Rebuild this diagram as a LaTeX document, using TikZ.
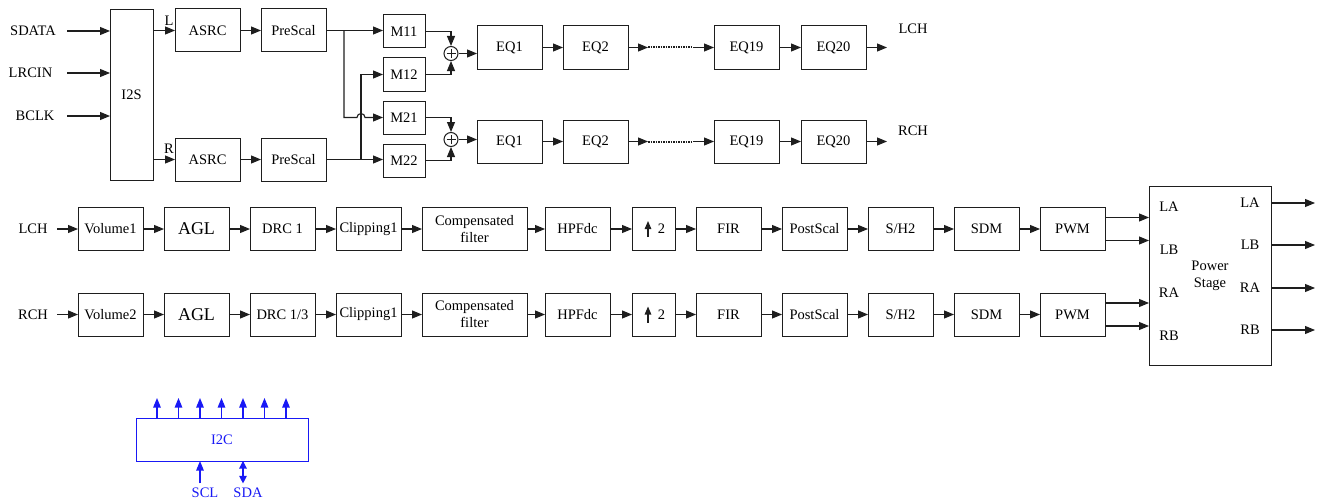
\documentclass[tikz,border=0pt]{standalone}
\usepackage{fontspec}
\setmainfont{Liberation Serif}
\usetikzlibrary{arrows.meta,positioning,calc}
\definecolor{linegray}{RGB}{30,30,30}
\definecolor{i2cblue}{RGB}{25,25,245}
\tikzset{
  blk/.style={rectangle, draw=linegray, line width=1pt, outer sep=0pt,
    minimum width=65pt, minimum height=43pt, inner sep=0pt, align=center,
    font=\fontsize{14.5}{17}\selectfont},
  mblk/.style={blk, minimum width=42pt, minimum height=33pt},
  sum/.style={circle, draw=linegray, line width=1pt, minimum size=14pt, inner sep=0pt,
    path picture={\draw[line width=0.9pt]
      ([xshift=-4.5pt]path picture bounding box.center) -- ([xshift=4.5pt]path picture bounding box.center)
      ([yshift=-4.5pt]path picture bounding box.center) -- ([yshift=4.5pt]path picture bounding box.center);}},
  sig/.style={inner sep=1pt, font=\fontsize{14.5}{17}\selectfont},
  arr/.style={-{Triangle[length=10pt,width=8pt]}, line width=1.1pt, color=linegray},
  smallarr/.style={-{Triangle[length=8pt,width=6.5pt]}, line width=1.1pt, color=linegray},
  dots/.style={line width=2pt, color=linegray, dash pattern=on 1.5pt off 1pt},
  bblk/.style={blk, draw=i2cblue, text=i2cblue, minimum width=172pt},
  bsig/.style={sig, inner sep=0pt, text=i2cblue},
  barr/.style={-{Triangle[length=9.5pt,width=7.5pt]}, line width=1.1pt, color=i2cblue},
  bdarr/.style={{Triangle[length=7.5pt,width=7.5pt]}-{Triangle[length=7.5pt,width=7.5pt]},
    line width=1.1pt, color=i2cblue}
}

\begin{document}
\begin{tikzpicture}[x=1pt,y=1pt]
\useasboundingbox (0,0) rectangle (1324,-503);

%% I2S and inputs
\node[blk, minimum width=43pt, minimum height=171pt] (i2s) at (131.5,-95) {I2S};
\node[sig] (sdata) at (33,-31) {SDATA};
\node[sig] (lrcin) at (30.5,-73) {LRCIN};
\node[sig] (bclk)  at (35,-116) {BCLK};
\coordinate (inx) at (67,0);
\draw[arr] (sdata -| inx) -- (sdata -| i2s.west);
\draw[arr] (lrcin -| inx) -- (lrcin -| i2s.west);
\draw[arr] (bclk -| inx)  -- (bclk -| i2s.west);

\node[sig] (lbl) at (169,-21) {L};
\node[sig] (rbl) at (169,-149) {R};
\node[blk] (asrcl) at (207.5,-30.5) {ASRC};
\node[blk, right=21pt of asrcl] (prel) {PreScal};
\node[blk] (asrcr) at (207.5,-159.5) {ASRC};
\node[blk, right=21pt of asrcr] (prer) {PreScal};
\draw[arr] (i2s.east |- asrcl) -- (asrcl);
\draw[arr] (i2s.east |- asrcr) -- (asrcr);
\draw[arr] (asrcl) -- (prel);
\draw[arr] (asrcr) -- (prer);

%% Mixer
\node[mblk] (m11) at (404,-31.5) {M11};
\node[mblk, below=10pt of m11] (m12) {M12};
\node[mblk, below=10pt of m12] (m21) {M21};
\node[mblk, below=10pt of m21] (m22) {M22};
\coordinate (jl) at (344,-30.5);
\coordinate (jr) at (361,-159.5);
\draw[arr] (prel) -- (prel -| m11.west);
\draw[arr] (prer) -- (prer -| m22.west);
\draw[arr] (jl) |- ([xshift=-4pt]jr |- m21)
  arc[start angle=180, end angle=0, radius=4pt] -- (m21);
\draw[arr] (jr) |- (m12);

\node[sum] (s1) at (451,-53.5) {};
\node[sum] (s2) at (451,-139.5) {};
\draw[arr] (m11) -| (s1);
\draw[arr] (m12) -| (s1);
\draw[arr] (m21) -| (s2);
\draw[arr] (m22) -| (s2);

%% EQ chains
\node[blk] (eq1l) at (509.5,-47.5) {EQ1};
\node[blk, right=21pt of eq1l] (eq2l) {EQ2};
\node[blk, right=86pt of eq2l] (eq19l) {EQ19};
\node[blk, right=22pt of eq19l] (eq20l) {EQ20};
\node[blk] (eq1r) at (509.5,-141.5) {EQ1};
\node[blk, right=21pt of eq1r] (eq2r) {EQ2};
\node[blk, right=86pt of eq2r] (eq19r) {EQ19};
\node[blk, right=22pt of eq19r] (eq20r) {EQ20};
\draw[arr] (s1) -- (s1 -| eq1l.west);
\draw[arr] (s2) -- (s2 -| eq1r.west);
\foreach \r in {l,r}{
  \coordinate (d1\r) at ($(eq2\r.east)+(20,0)$);
  \coordinate (d2\r) at ($(eq19\r.west)+(-21,0)$);
  \coordinate (out\r) at ($(eq20\r.east)+(21,0)$);
  \draw[arr] (eq1\r) -- (eq2\r);
  \draw[arr] (eq2\r) -- (d1\r);
  \draw[dots] (d1\r) -- (d2\r);
  \draw[arr] (d2\r) -- (eq19\r);
  \draw[arr] (eq19\r) -- (eq20\r);
  \draw[arr] (eq20\r) -- (out\r);
}
\node[sig] (lchout) at (913,-29) {LCH};
\node[sig] (rchout) at (913,-131) {RCH};

%% Left channel
\node[sig] (lchin) at (33,-229) {LCH};
\node[blk] (vol1) at (110.5,-229) {Volume1};
\node[blk, right=21pt of vol1, font=\fontsize{18}{20}\selectfont] (agl1) {AGL};
\node[blk, right=21pt of agl1] (drc1) {DRC 1};
\node[blk, right=21pt of drc1] (clip1) {Clipping1};
\node[blk, right=21pt of clip1, minimum width=105pt] (comp1) {Compensated\\filter};
\node[blk, right=18pt of comp1] (hpf1) {HPFdc};
\node[blk, right=22pt of hpf1, minimum width=43pt] (up1) {\hspace*{16pt}2};
\node[blk, right=21pt of up1] (fir1) {FIR};
\node[blk, right=21pt of fir1] (post1) {PostScal};
\node[blk, right=21pt of post1] (sh1) {S/H2};
\node[blk, right=21pt of sh1] (sdm1) {SDM};
\node[blk, right=21pt of sdm1] (pwm1) {PWM};

%% Right channel
\node[sig] (rchin) at (33,-314.5) {RCH};
\node[blk] (vol2) at (110.5,-314.5) {Volume2};
\node[blk, right=21pt of vol2, font=\fontsize{18}{20}\selectfont] (agl2) {AGL};
\node[blk, right=21pt of agl2] (drc2) {DRC 1/3};
\node[blk, right=21pt of drc2] (clip2) {Clipping1};
\node[blk, right=21pt of clip2, minimum width=105pt] (comp2) {Compensated\\filter};
\node[blk, right=18pt of comp2] (hpf2) {HPFdc};
\node[blk, right=22pt of hpf2, minimum width=43pt] (up2) {\hspace*{16pt}2};
\node[blk, right=21pt of up2] (fir2) {FIR};
\node[blk, right=21pt of fir2] (post2) {PostScal};
\node[blk, right=21pt of post2] (sh2) {S/H2};
\node[blk, right=21pt of sh2] (sdm2) {SDM};
\node[blk, right=21pt of sdm2] (pwm2) {PWM};

\coordinate (minx) at (57,0);
\draw[arr] (lchin -| minx) -- (vol1);
\draw[arr] (rchin -| minx) -- (vol2);
\foreach \i in {1,2}{
  \draw[smallarr] ([xshift=-5.5pt,yshift=-8pt]up\i.center) -- ++(0,16);
  \foreach \a/\b in {vol/agl,agl/drc,drc/clip,clip/comp,comp/hpf,hpf/up,up/fir,fir/post,post/sh,sh/sdm,sdm/pwm}
    \draw[arr] (\a\i) -- (\b\i);
}

%% Power stage
\node[blk, minimum width=122pt, minimum height=179pt] (ps) at (1210,-275.5) {Power\\Stage};
\node[sig] (pla) at (1169,-207) {LA};
\node[sig] (plb) at (1169,-250) {LB};
\node[sig] (pra) at (1169,-293) {RA};
\node[sig] (prb) at (1169,-336) {RB};
\node[sig] (qla) at (1250,-203) {LA};
\node[sig] (qlb) at (1250,-245) {LB};
\node[sig] (qra) at (1250,-288) {RA};
\node[sig] (qrb) at (1250,-330) {RB};
\draw[arr] ([yshift=11.5pt]pwm1.east) -- ([yshift=11.5pt]pwm1.east -| ps.west);
\draw[arr] ([yshift=-11.5pt]pwm1.east) -- ([yshift=-11.5pt]pwm1.east -| ps.west);
\draw[arr] ([yshift=11.5pt]pwm2.east) -- ([yshift=11.5pt]pwm2.east -| ps.west);
\draw[arr] ([yshift=-11.5pt]pwm2.east) -- ([yshift=-11.5pt]pwm2.east -| ps.west);
\coordinate (oend) at (1315,0);
\foreach \o in {qla,qlb,qra,qrb}
  \draw[arr] (\o -| ps.east) -- (\o -| oend);

%% I2C
\node[bblk] (i2c) at (222,-439.5) {I2C};
\foreach \k in {0,...,6}
  \draw[barr] ($(i2c.north west)+(21+21.5*\k,0)$) -- ++(0,20);
\node[bsig] (scl) at (205,-492.5) {SCL};
\node[bsig] (sda) at (248,-492.5) {SDA};
\draw[barr, shorten <=4pt] ([xshift=-5pt]scl.north) -- ([xshift=-5pt]scl.north |- i2c.south);
\draw[bdarr, shorten <=4pt] ([xshift=-5pt]sda.north) -- ([xshift=-5pt]sda.north |- i2c.south);

\end{tikzpicture}
\end{document}
